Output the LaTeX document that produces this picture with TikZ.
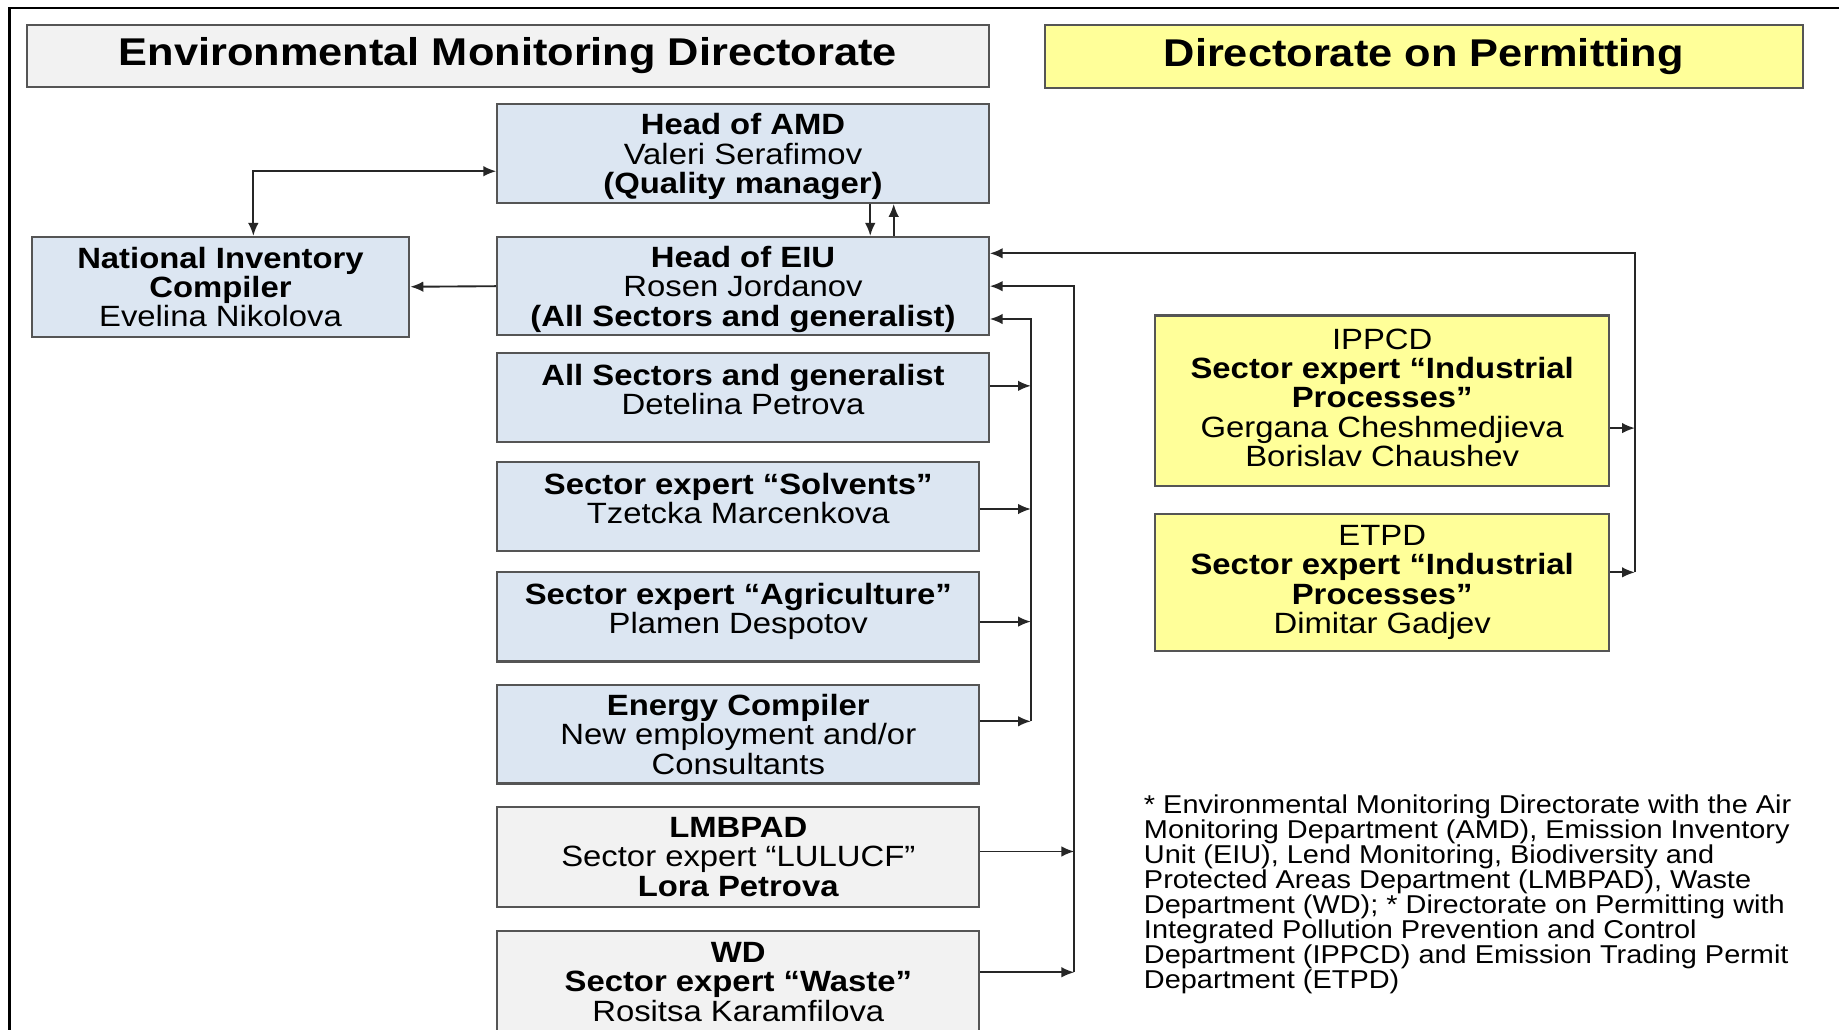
\documentclass[tikz,border=0pt]{standalone}
\usepackage{fontspec}
\setmainfont[FakeStretch=1.12]{Liberation Sans}
\usetikzlibrary{arrows.meta}
\definecolor{eiublue}{RGB}{220,230,242}
\definecolor{emdgray}{RGB}{242,242,242}
\definecolor{permyellow}{RGB}{255,255,153}
\definecolor{boxline}{RGB}{85,85,85}
\tikzset{
  unit/.style={draw=boxline, line width=0.9pt, align=center, inner sep=2pt,
    text depth=-2pt, font=\fontsize{12.5}{12.5}\selectfont},
  bluebox/.style={unit, fill=eiublue},
  graybox/.style={unit, fill=emdgray},
  yellowbox/.style={unit, fill=permyellow},
  titlebox/.style={font=\fontsize{16.5}{16.5}\selectfont\bfseries, text depth=3.5pt},
  twoline/.style={text depth=7pt},
  link/.style={draw=black!85, line width=0.8pt, >={Latex[length=5.5pt,width=4.5pt]}},
}
\begin{document}
\begin{tikzpicture}[x=0.5pt,y=-0.5pt]
        \clip (0,0) rectangle (1568,878);
        \fill[white] (0,0) rectangle (1568,878);
        \draw[line width=1pt] (8,878) -- (8,7) -- (1568,7);

        \node[graybox, titlebox, minimum width=410pt, minimum height=26.5pt] (emd) at (433,47.5) {Environmental Monitoring Directorate};
        \node[yellowbox, titlebox, minimum width=323pt, minimum height=27pt] (dop) at (1214,48) {Directorate on Permitting};

        \node[bluebox, minimum width=209.5pt, minimum height=42pt] (amd) at (633.5,131) {\textbf{Head of AMD}\\Valeri Serafimov\\\textbf{(Quality manager)}};
        \node[bluebox, minimum width=161pt, minimum height=42.5pt] (nic) at (188,244.5) {\textbf{National Inventory}\\\textbf{Compiler}\\Evelina Nikolova};
        \node[bluebox, minimum width=209.5pt, minimum height=42pt] (eiu) at (633.5,244) {\textbf{Head of EIU}\\Rosen Jordanov\\\textbf{(All Sectors and generalist)}};
        \node[bluebox, twoline, minimum width=209.5pt, minimum height=38pt] (allsec) at (633.5,339) {\textbf{All Sectors and generalist}\\Detelina Petrova};
        \node[bluebox, twoline, minimum width=205.5pt, minimum height=38pt] (sol) at (629.5,432) {\textbf{Sector expert “Solvents”}\\Tzetcka Marcenkova};
        \node[bluebox, twoline, minimum width=205.5pt, minimum height=38pt] (agr) at (629.5,526) {\textbf{Sector expert “Agriculture”}\\Plamen Despotov};
        \node[bluebox, minimum width=205.5pt, minimum height=42pt] (ene) at (629.5,626) {\textbf{Energy Compiler}\\New employment and/or\\Consultants};
        \node[graybox, minimum width=205.5pt, minimum height=42.5pt] (lmb) at (629.5,730.5) {\textbf{LMBPAD}\\Sector expert “LULUCF”\\\textbf{Lora Petrova}};
        \node[graybox, minimum width=205.5pt, minimum height=43pt] (wd) at (629.5,837) {\textbf{WD}\\\textbf{Sector expert “Waste”}\\Rositsa Karamfilova};

        \node[yellowbox, text depth=2.5pt, minimum width=193.5pt, minimum height=72.5pt] (ippcd) at (1178.5,341.5) {IPPCD\\\textbf{Sector expert “Industrial}\\\textbf{Processes”}\\Gergana Cheshmedjieva\\Borislav Chaushev};
        \node[yellowbox, text depth=2.6pt, minimum width=193.5pt, minimum height=58.5pt] (etpd) at (1178.5,496.5) {ETPD\\\textbf{Sector expert “Industrial}\\\textbf{Processes”}\\Dimitar Gadjev};

        \node[anchor=north west, inner sep=0pt, align=left, font=\fontsize{11}{10.7}\selectfont] (note) at (975,677) {* Environmental Monitoring Directorate with the Air\\Monitoring Department (AMD), Emission Inventory\\Unit (EIU), Lend Monitoring, Biodiversity and\\Protected Areas Department (LMBPAD), Waste\\Department (WD); * Directorate on Permitting with\\Integrated Pollution Prevention and Control\\Department (IPPCD) and Emission Trading Permit\\Department (ETPD)};

        \coordinate (nicup) at (216,146);
        \coordinate (dn) at (742,188);
        \coordinate (up) at (762,188);
        \coordinate (b1top) at (879,272);
        \coordinate (b1a) at (879,329);
        \coordinate (b1b) at (879,434);
        \coordinate (b1c) at (879,530);
        \coordinate (b1d) at (879,615);
        \coordinate (b2top) at (916,244);
        \coordinate (b2a) at (916,726);
        \coordinate (b2b) at (916,829);
        \coordinate (b3top) at (1394,216);
        \coordinate (b3a) at (1394,365);
        \coordinate (b3b) at (1394,488);

        \path[link,->] (eiu.west) -- (nic.east);
        \path[link,<->] (nic.north -| nicup) -- (nicup) -- (amd.west |- nicup);
        \path[link,->] (amd.south -| dn) -- (eiu.north -| dn);
        \path[link,->] (eiu.north -| up) -- (amd.south -| up);

        \path[link,->] (allsec.east |- b1a) -- (b1a);
        \path[link,->] (sol.east |- b1b) -- (b1b);
        \path[link,->] (agr.east |- b1c) -- (b1c);
        \path[link,->] (ene.east |- b1d) -- (b1d);
        \path[link,->] (b1d) -- (b1top) -- (eiu.east |- b1top);

        \path[link,->] (lmb.east |- b2a) -- (b2a);
        \path[link,->] (wd.east |- b2b) -- (b2b);
        \path[link,->] (b2b) -- (b2top) -- (eiu.east |- b2top);

        \path[link,->] (ippcd.east |- b3a) -- (b3a);
        \path[link,->] (etpd.east |- b3b) -- (b3b);
        \path[link,->] (b3b) -- (b3top) -- (eiu.east |- b3top);
\end{tikzpicture}
\end{document}
